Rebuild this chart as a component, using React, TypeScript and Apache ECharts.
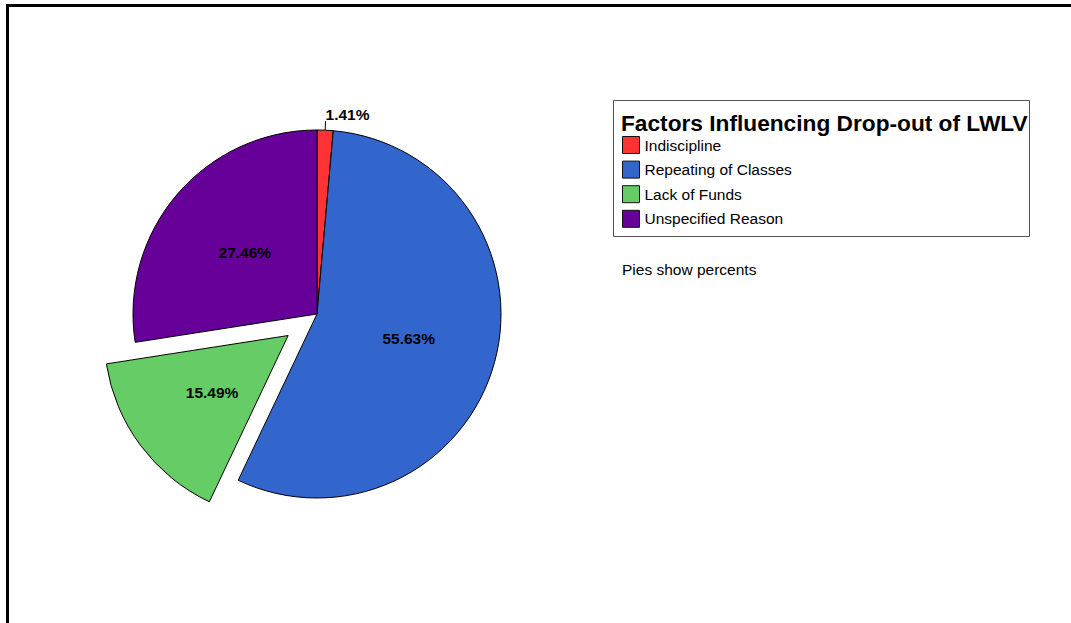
import React, { useEffect, useRef } from "react";
import * as echarts from "echarts";

const categories = ["Indiscipline", "Repeating of Classes", "Lack of Funds", "Unspecified Reason"];
const percents = [1.41, 55.63, 15.49, 27.46];
const colors = ["#FF3333", "#3366CC", "#66CC66", "#660099"];
const explodedIndex = 2;
const outsideLabelIndex = 0;
const chartTitle = "Factors Influencing Drop-out of LWLV";
const note = "Pies show percents";

const FONT = "'Liberation Sans', Arial, sans-serif";

export default function App() {
  const ref = useRef<HTMLDivElement>(null);
  useEffect(() => {
    document.body.style.margin = "0";
    const chart = echarts.init(ref.current!, undefined, { renderer: "svg" });
    const data = categories.map((name, i) => {
      const item: any = {
        name,
        value: percents[i],
        itemStyle: { color: colors[i] },
      };
      if (i === explodedIndex) item.selected = true;
      if (i === outsideLabelIndex) {
        item.label = {
          position: "outside",
          distanceToLabelLine: 0,
        };
        item.labelLine = { show: true, length: 9, length2: 0, lineStyle: { color: "#000", width: 1 } };
      }
      return item;
    });
    chart.setOption({
      animation: false,
      backgroundColor: "#fff",
      title: {
        text: chartTitle,
        left: 621,
        top: 111,
        padding: 0,
        textStyle: { fontFamily: FONT, fontSize: 22.7, fontWeight: "bold", color: "#000" },
      },
      legend: {
        orient: "vertical",
        left: 622,
        top: 136,
        padding: 0,
        itemWidth: 17,
        itemHeight: 17,
        itemGap: 6.6,
        icon: "rect",
        selectedMode: false,
        data: categories,
        textStyle: { fontFamily: FONT, fontSize: 15.5, color: "#000" },
        itemStyle: { borderColor: "#111", borderWidth: 1 },
      },
      graphic: [
        {
          type: "rect",
          shape: { x: 613.5, y: 100.5, width: 416, height: 136 },
          style: { fill: "none", stroke: "#555", lineWidth: 1 },
          z: -1,
        },
        {
          type: "text",
          x: 622,
          y: 269,
          style: { text: note, font: `15.5px ${FONT}`, fill: "#000", verticalAlign: "middle" },
        },
        {
          type: "line",
          shape: { x1: 6, y1: 5.5, x2: 1071, y2: 5.5 },
          style: { stroke: "#000", lineWidth: 3 },
        },
        {
          type: "line",
          shape: { x1: 7.5, y1: 4, x2: 7.5, y2: 623 },
          style: { stroke: "#000", lineWidth: 3 },
        },
      ],
      series: [
        {
          type: "pie",
          center: [317, 314],
          radius: [0, 184],
          startAngle: 90,
          clockwise: true,
          selectedMode: "single",
          selectedOffset: 36,
          emphasis: { disabled: true },
          itemStyle: { borderColor: "#000", borderWidth: 1 },
          label: {
            show: true,
            position: "inside",
            formatter: (p: any) => p.value.toFixed(2) + "%",
            fontFamily: FONT,
            fontSize: 15.5,
            fontWeight: "bold",
            color: "#000",
          },
          labelLine: { show: false },
          labelLayout: (params: any) =>
            params.dataIndex === outsideLabelIndex ? { dy: -7 } : {},
          data,
        },
      ],
    });
    return () => chart.dispose();
  }, []);
  return <div ref={ref} style={{ width: 1071, height: 623 }} />;
}
